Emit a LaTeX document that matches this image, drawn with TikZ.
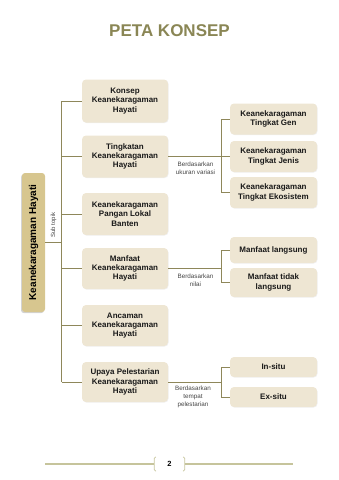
\documentclass[tikz,border=0pt]{standalone}
\usepackage{fontspec}
\setmainfont{Liberation Sans}
\usepackage{xcolor}
\usetikzlibrary{shadows}

\definecolor{boxfill}{HTML}{EEE6D3}
\definecolor{mainfill}{HTML}{D7C68F}
\definecolor{linkcol}{HTML}{8E875A}
\definecolor{titlecol}{HTML}{8A8655}
\definecolor{footcol}{HTML}{C6C49C}
\definecolor{notecol}{HTML}{444444}

\begin{document}
\begin{tikzpicture}[x=1pt, y=-1pt]
    % Style definitions
    \tikzset{
        box/.style={fill=boxfill, rounded corners=4pt, align=center, inner sep=0pt,
            font=\fontsize{8}{9.4}\selectfont\bfseries, text=black!90,
            drop shadow={opacity=0.12, shadow xshift=0.6pt, shadow yshift=-0.6pt}},
        topicbox/.style={box, minimum width=86},
        subbox/.style={box, minimum width=87},
        link/.style={linkcol, line width=0.9pt},
        note/.style={align=center, text=notecol, font=\fontsize{6.3}{7.8}\selectfont},
        footline/.style={footcol, line width=1.1pt}
    }
    \useasboundingbox (0,0) rectangle (339,480);

    % ==========================================
    % TITLE AND MAIN TOPIC
    % ==========================================
    \node[text=titlecol, font=\fontsize{17}{20}\selectfont\bfseries] (title) at (169.5,31) {PETA KONSEP};
    \node[fill=mainfill, rounded corners=3pt, rotate=90, minimum width=139, minimum height=23, inner sep=0pt,
        font=\fontsize{10}{12}\selectfont\bfseries,
        drop shadow={opacity=0.35, shadow xshift=-1pt, shadow yshift=-1.2pt}] (main) at (33.5,242.5) {Keanekaragaman Hayati};
    \node[rotate=90, note, font=\fontsize{6}{7}\selectfont] (subtopik) at (53.5,225) {Sub topik};

    % ==========================================
    % SUB TOPICS (left column)
    % ==========================================
    \node[topicbox, minimum height=43] (konsep) at (125,101) {Konsep\\Keanekaragaman\\Hayati};
    \node[topicbox, minimum height=42] (tingkatan) at (125,156.5) {Tingkatan\\Keanekaragaman\\Hayati};
    \node[topicbox, minimum height=42] (pangan) at (125,214) {Keanekaragaman\\Pangan Lokal\\Banten};
    \node[topicbox, minimum height=41] (manfaat) at (125,268.5) {Manfaat\\Keanekaragaman\\Hayati};
    \node[topicbox, minimum height=41] (ancaman) at (125,325.5) {Ancaman\\Keanekaragaman\\Hayati};
    \node[topicbox, minimum height=40] (upaya) at (125,382) {Upaya Pelestarian\\Keanekaragaman\\Hayati};

    % Trunk from main topic to sub topics
    \coordinate (trunk) at (61.5,242.5);
    \draw[link] (main.south) -- (trunk);
    \draw[link] (konsep.west -| trunk) -- (upaya.west -| trunk);
    \foreach \t in {konsep, tingkatan, pangan, manfaat, ancaman, upaya}
        \draw[link] (\t.west -| trunk) -- (\t.west);

    % ==========================================
    % RIGHT COLUMN
    % ==========================================
    \node[subbox, minimum height=31] (gen) at (273.5,119) {Keanekaragaman\\Tingkat Gen};
    \node[subbox, minimum height=31] (jenis) at (273.5,156.5) {Keanekaragaman\\Tingkat Jenis};
    \node[subbox, minimum height=31] (ekosistem) at (273.5,192.5) {Keanekaragaman\\Tingkat Ekosistem};
    \node[subbox, minimum height=26] (langsung) at (273.5,250) {Manfaat langsung};
    \node[subbox, minimum height=29] (tidaklangsung) at (273.5,282.5) {Manfaat tidak\\langsung};
    \node[subbox, minimum height=20] (insitu) at (273.5,367) {In-situ};
    \node[subbox, minimum height=20] (exsitu) at (273.5,397) {Ex-situ};

    \coordinate (branch) at (221,0);

    % Tingkatan -> Gen, Jenis, Ekosistem
    \draw[link] (tingkatan.east) -- (jenis.west);
    \draw[link] (gen.west) -- (gen.west -| branch) -- (ekosistem.west -| branch) -- (ekosistem.west);
    \node[note] (ukuran) at (195.5,168) {Berdasarkan\\ukuran variasi};

    % Manfaat -> langsung, tidak langsung
    \draw[link] (manfaat.east) -- (manfaat.east -| branch);
    \draw[link] (langsung.west) -- (langsung.west -| branch) -- (tidaklangsung.west -| branch) -- (tidaklangsung.west);
    \node[note] (nilai) at (195.5,280) {Berdasarkan\\nilai};

    % Upaya -> In-situ, Ex-situ
    \draw[link] (upaya.east) -- (upaya.east -| branch);
    \draw[link] (insitu.west) -- (insitu.west -| branch) -- (exsitu.west -| branch) -- (exsitu.west);
    \node[note] (tempat) at (193,397) {Berdasarkan\\tempat\\pelestarian};

    % ==========================================
    % PAGE NUMBER
    % ==========================================
    \node[minimum width=31, minimum height=14, font=\fontsize{7.5}{9}\selectfont\bfseries] (pagenum) at (169.5,464) {2};
    \coordinate (footL) at (45,464);
    \coordinate (footR) at (293,464);
    \draw[footline] (footL) -- (pagenum.west);
    \draw[footline] (pagenum.east) -- (footR);
    \draw[footline, line width=0.8pt] ([xshift=2pt]pagenum.north west) -- ([xshift=0.5pt,yshift=-1.5pt]pagenum.north west)
        -- ([xshift=0.5pt,yshift=1.5pt]pagenum.south west) -- ([xshift=2pt]pagenum.south west);
    \draw[footline, line width=0.8pt] ([xshift=-2pt]pagenum.north east) -- ([xshift=-0.5pt,yshift=-1.5pt]pagenum.north east)
        -- ([xshift=-0.5pt,yshift=1.5pt]pagenum.south east) -- ([xshift=-2pt]pagenum.south east);
\end{tikzpicture}
\end{document}
